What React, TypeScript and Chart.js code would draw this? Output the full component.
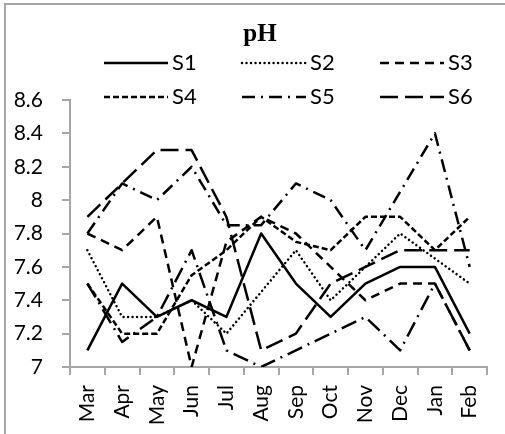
import React, { useEffect, useRef } from 'react';
import { Chart, registerables } from 'chart.js';

Chart.register(...registerables);

const months = ['Mar', 'Apr', 'May', 'Jun', 'Jul', 'Aug', 'Sep', 'Oct', 'Nov', 'Dec', 'Jan', 'Feb'];
const seriesNames = ['S1', 'S2', 'S3', 'S4', 'S5', 'S6'];
const s1 = [7.1, 7.5, 7.3, 7.4, 7.3, 7.8, 7.5, 7.3, 7.5, 7.6, 7.6, 7.2];
const s2 = [7.7, 7.3, 7.3, 7.4, 7.2, 7.45, 7.7, 7.4, 7.6, 7.8, 7.65, 7.5];
const s3 = [7.8, 7.7, 7.9, 7.0, 7.75, 7.9, 7.8, 7.6, 7.4, 7.5, 7.5, 7.1];
const s4 = [7.5, 7.2, 7.2, 7.55, 7.7, 7.9, 7.75, 7.7, 7.9, 7.9, 7.7, 7.9];
const s5 = [7.8, 8.1, 8.0, 8.2, 7.85, 7.85, 8.1, 8.0, 7.7, 8.05, 8.4, 7.6];
const s6 = [7.9, 8.1, 8.3, 8.3, 7.9, 7.1, 7.2, 7.5, 7.6, 7.7, 7.7, 7.7];
const s7 = [7.5, 7.15, 7.3, 7.7, 7.1, 7.0, 7.1, 7.2, 7.3, 7.1, 7.5, 7.1];
const yMin = 7;
const yMax = 8.6;
const yStep = 0.2;
const titleText = 'pH';

const dashes: number[][] = [[], [0.01, 4.5], [9, 6], [6, 3], [13, 6, 2, 6], [18, 7], [16, 6, 2, 6]];
const caps = ['butt', 'round', 'butt', 'butt', 'butt', 'butt', 'butt'];

const titleLegendPlugin = {
  id: 'titleLegend',
  afterDraw(chart: any) {
    const ctx = chart.ctx as CanvasRenderingContext2D;
    ctx.save();
    ctx.fillStyle = '#000';
    ctx.textBaseline = 'middle';
    ctx.textAlign = 'center';
    ctx.font = 'bold 25px "Liberation Serif"';
    ctx.fillText(titleText, 260, 35);
    const cols = [104, 242, 380];
    const rows = [63, 97];
    seriesNames.forEach((name, i) => {
      const ds = chart.data.datasets[i];
      const x = cols[i % 3];
      const y = rows[Math.floor(i / 3)];
      ctx.strokeStyle = '#000';
      ctx.lineWidth = ds.borderWidth;
      ctx.lineCap = ds.borderCapStyle;
      ctx.setLineDash(ds.borderDash);
      ctx.beginPath();
      ctx.moveTo(x, y);
      ctx.lineTo(x + 64, y);
      ctx.stroke();
      ctx.setLineDash([]);
      ctx.textAlign = 'left';
      ctx.font = '22px Lato';
      ctx.fillText(name, x + 68, y);
    });
    ctx.restore();
  },
};

export default function App() {
  const ref = useRef<HTMLCanvasElement>(null);
  useEffect(() => {
    const all = [s1, s2, s3, s4, s5, s6, s7];
    const datasets = all.map((d, i) => ({
      label: i < seriesNames.length ? seriesNames[i] : '',
      data: d,
      borderColor: '#000',
      backgroundColor: '#000',
      borderWidth: 2.5,
      borderDash: dashes[i],
      borderCapStyle: caps[i] as CanvasLineCap,
      borderJoinStyle: 'round' as CanvasLineJoin,
      pointRadius: 0,
      fill: false,
      tension: 0,
    }));
    const axisColor = '#a6a6a6';
    const chart = new Chart(ref.current!, {
      type: 'line',
      data: { labels: months, datasets },
      options: {
        animation: false,
        responsive: false,
        devicePixelRatio: 1,
        layout: { padding: { top: 100, left: 0, right: 3, bottom: 0 } },
        plugins: {
          legend: { display: false },
          title: { display: false },
          tooltip: { enabled: false },
        },
        scales: {
          x: {
            offset: true,
            grid: { offset: true, drawOnChartArea: false, drawTicks: true, tickLength: 8, color: axisColor, lineWidth: 2 },
            border: { color: axisColor, width: 2 },
            ticks: { minRotation: 90, maxRotation: 90, padding: 10, color: '#000', font: { family: 'Lato', size: 21 } },
            afterFit: (s: any) => { s.height = 67; },
          },
          y: {
            min: yMin,
            max: yMax,
            ticks: {
              stepSize: yStep,
              padding: 19,
              color: '#000',
              font: { family: 'Lato', size: 21 },
              callback: (v: any) => String(Math.round(Number(v) * 10) / 10),
            },
            grid: { drawOnChartArea: false, drawTicks: true, tickLength: 8, color: axisColor, lineWidth: 2 },
            border: { color: axisColor, width: 2 },
            afterFit: (s: any) => { s.width = 70; },
          },
        },
      },
      plugins: [titleLegendPlugin],
    });
    return () => chart.destroy();
  }, []);
  return (
    <div style={{ position: 'fixed', left: 0, top: 0, width: 505, height: 434, overflow: 'hidden', background: '#fff' }}>
      <div style={{ position: 'absolute', left: 4, top: 3, width: 620, height: 620, border: '2px solid #a6a6a6' }} />
      <canvas ref={ref} width={505} height={434} style={{ position: 'absolute', left: 0, top: 0 }} />
    </div>
  );
}
